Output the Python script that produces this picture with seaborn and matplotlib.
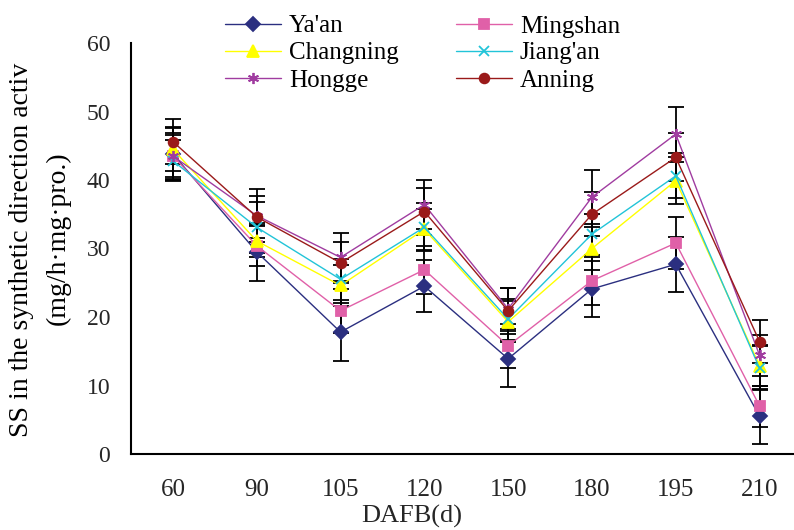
# SS activity by site across fruit development (DAFB)
import matplotlib
matplotlib.use("Agg")
import matplotlib.pyplot as plt
from matplotlib.ticker import FixedLocator
import seaborn as sns
import numpy as np

# --- dados ---
days = ["60", "90", "105", "120", "150", "180", "195", "210"]
sites = ["Ya'an", "Mingshan", "Changning", "Jiang'an", "Hongge", "Anning"]

yaan = [43.8, 29.5, 17.8, 24.5, 13.9, 24.1, 27.7, 5.5]
mingshan = [43.5, 30.4, 20.9, 26.9, 15.8, 25.3, 30.8, 7.0]
changning = [44.5, 31.1, 24.6, 32.8, 19.3, 30.0, 39.9, 12.9]
jiangan = [42.8, 33.1, 25.5, 33.1, 19.7, 32.1, 40.6, 12.5]
hongge = [43.5, 34.8, 28.7, 36.4, 21.2, 37.5, 46.7, 14.4]
anning = [45.6, 34.6, 27.9, 35.4, 20.9, 35.0, 43.3, 16.4]

yaan_err = [3.8, 4.2, 4.2, 3.8, 4.1, 4.1, 4.0, 4.0]
mingshan_err = [3.0, 2.9, 3.2, 3.5, 3.2, 3.5, 3.8, 3.0]
changning_err = [3.2, 2.3, 3.0, 3.0, 3.0, 3.2, 3.4, 3.0]
jiangan_err = [3.0, 3.7, 3.0, 3.5, 3.0, 3.0, 3.3, 3.2]
hongge_err = [3.4, 3.9, 3.5, 3.6, 3.0, 3.9, 4.0, 3.0]
anning_err = [3.3, 3.1, 3.0, 3.4, 3.4, 3.2, 3.5, 3.1]

values = [yaan, mingshan, changning, jiangan, hongge, anning]
errors = [yaan_err, mingshan_err, changning_err, jiangan_err, hongge_err, anning_err]
colors = ["#2B2F80", "#E060A8", "#FFFF00", "#22C4D8", "#A03CA0", "#9A1A1A"]
markers = ["D", "s", "^", "x", (6, 2, 0), "o"]
msizes = [7, 7, 8, 7, 8, 7]

sns.set_style("white")
plt.rcParams["font.family"] = ["Liberation Serif", "DejaVu Serif"]
plt.rcParams["text.color"] = "black"

fig = plt.figure(figsize=(7.94, 5.30), dpi=100)
ax = fig.add_axes([131 / 794, 1 - 454 / 530, 670.5 / 794, 411 / 530])

x = np.arange(len(days))
for name, vals, err, col, mk, ms in zip(sites, values, errors, colors, markers, msizes):
    ax.errorbar(x, vals, yerr=err, fmt="none", ecolor="black",
                elinewidth=1.3, capsize=6, capthick=1.3, zorder=2)
    sns.lineplot(x=x, y=vals, ax=ax, color=col, marker=mk, markersize=ms,
                 markeredgecolor=col, markerfacecolor=col, markeredgewidth=1.3,
                 linewidth=1.0, label=name, zorder=3)

h, l = ax.get_legend_handles_labels()
ax.get_legend().remove()
order = [0, 2, 4, 1, 3, 5]
fig.legend([h[i] for i in order], [l[i] for i in order], ncol=2,
           loc="upper left", bbox_to_anchor=(225 / 794, 1 - 15 / 530),
           frameon=False, fontsize=18, handlelength=2.25, handletextpad=0.3,
           columnspacing=2.3, labelspacing=0.18, borderpad=0, borderaxespad=0)

ax.set_xlim(-0.5, 7.5)
ax.set_ylim(0, 60)
ax.set_yticks(range(0, 61, 10))
ax.xaxis.set_major_locator(FixedLocator(np.arange(0.5, 7.0, 1.0)))
ax.xaxis.set_minor_locator(FixedLocator(x))
ax.set_xticklabels([], minor=False)
ax.set_xticklabels(days, minor=True)
ax.tick_params(axis="x", which="major", direction="in", length=6, width=1.3)
ax.tick_params(axis="x", which="minor", length=0, pad=18, labelsize=18)
ax.tick_params(axis="y", direction="in", length=7, width=1.3, pad=15, labelsize=17)

for s in ["top", "right"]:
    ax.spines[s].set_visible(False)
for s in ["left", "bottom"]:
    ax.spines[s].set_color("black")
    ax.spines[s].set_linewidth(1.5)

ax.set_xlabel("DAFB(d)", fontsize=19)
ax.xaxis.set_label_coords((412 - 131) / 670.5, -0.125)
ax.set_ylabel("")

fig.text(22 / 794, 1 - 437 / 530, "SS in the synthetic direction activ",
         rotation=90, ha="center", va="bottom", fontsize=20)
fig.text(58 / 794, 1 - 238 / 530, "(mg/h\u00b7mg\u00b7pro.)",
         rotation=90, ha="center", va="center", fontsize=20)

fig.savefig("out.png", dpi=100)
